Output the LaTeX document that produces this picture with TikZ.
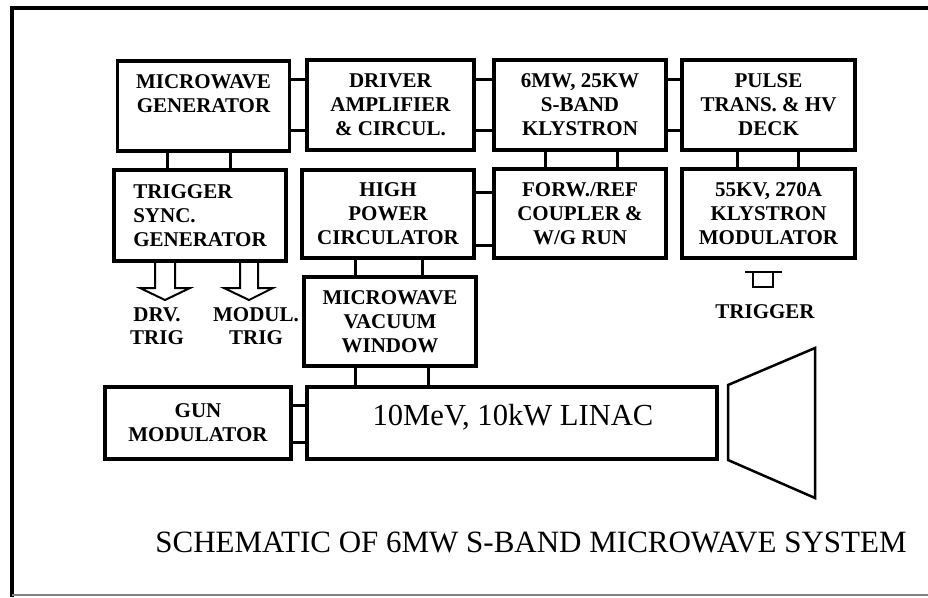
\documentclass[tikz,border=0pt]{standalone}
\usepackage{fontspec}
\setmainfont{Liberation Serif}
\begin{document}
\begin{tikzpicture}[x=1pt,y=-1pt,
  box/.style={draw, line width=3.5pt, minimum width=172pt, minimum height=90pt, align=center, inner sep=0pt, font=\bfseries\fontsize{21}{24}\selectfont},
  link/.style={line width=3pt},
  lbl/.style={align=center, inner sep=0pt, font=\bfseries\fontsize{21}{23}\selectfont},
  thinline/.style={line width=2pt, line join=miter},
  bigtext/.style={inner sep=0pt, font=\fontsize{30.6}{36}\selectfont}]
\useasboundingbox (0,0) rectangle (928,597);
% frame
\coordinate (f1) at (12,597);
\coordinate (f2) at (12,8);
\coordinate (f3) at (935,8);
\coordinate (f4) at (12,595);
\coordinate (f5) at (935,595);
\draw[line width=3.5pt] (f1) -- (f2) -- (f3);
\draw[gray, line width=1.5pt] (f4) -- (f5);
% boxes
\node[box] (mg) at (203.5,106) {MICROWAVE\\GENERATOR\\~};
\node[box, minimum width=167pt] (drv) at (390.5,105) {DRIVER\\AMPLIFIER\\\& CIRCUL.};
\node[box] (kly) at (580,105) {6MW, 25KW\\S-BAND\\KLYSTRON};
\node[box, minimum width=173pt] (pul) at (768.5,105) {PULSE\\TRANS. \& HV\\DECK};
\node[box, align=left, minimum height=91pt] (tsg) at (200,215.5) {TRIGGER\\SYNC.\\GENERATOR};
\node[box, minimum height=88pt] (hpc) at (388,214) {HIGH\\POWER\\CIRCULATOR};
\node[box, minimum height=89pt] (fwd) at (580,213.5) {FORW./REF\\COUPLER \&\\W/G RUN};
\node[box, minimum width=173pt, minimum height=89pt] (kmod) at (768.5,213.5) {55KV, 270A\\KLYSTRON\\MODULATOR};
\node[box, minimum height=89pt] (mvw) at (390,321.5) {MICROWAVE\\VACUUM\\WINDOW};
\node[box, minimum width=410pt, minimum height=72pt] (linac) at (512,423) {};
\node[bigtext, anchor=base] (linactxt) at (513,425) {10MeV, 10kW LINAC};
\node[box, minimum width=186pt, minimum height=72pt] (gun) at (198,423) {GUN\\MODULATOR};
% links
\draw[link] (mg.east |- 0,79) -- (drv.west |- 0,79);
\draw[link] (mg.east |- 0,130) -- (drv.west |- 0,130);
\draw[link] (drv.east |- 0,79) -- (kly.west |- 0,79);
\draw[link] (drv.east |- 0,130) -- (kly.west |- 0,130);
\draw[link] (kly.east |- 0,79) -- (pul.west |- 0,79);
\draw[link] (kly.east |- 0,130) -- (pul.west |- 0,130);
\draw[link] (mg.south -| 167,0) -- (tsg.north -| 167,0);
\draw[link] (mg.south -| 230,0) -- (tsg.north -| 230,0);
\draw[link] (kly.south -| 545,0) -- (fwd.north -| 545,0);
\draw[link] (kly.south -| 617,0) -- (fwd.north -| 617,0);
\draw[link] (pul.south -| 737,0) -- (kmod.north -| 737,0);
\draw[link] (pul.south -| 798,0) -- (kmod.north -| 798,0);
\draw[link] (hpc.east |- 0,192) -- (fwd.west |- 0,192);
\draw[link] (hpc.east |- 0,245) -- (fwd.west |- 0,245);
\draw[link] (hpc.south -| 355,0) -- (mvw.north -| 355,0);
\draw[link] (hpc.south -| 422,0) -- (mvw.north -| 422,0);
\draw[link] (mvw.south -| 355,0) -- (linac.north -| 355,0);
\draw[link] (mvw.south -| 428,0) -- (linac.north -| 428,0);
\draw[link] (gun.east |- 0,405) -- (linac.west |- 0,405);
\draw[link] (gun.east |- 0,442) -- (linac.west |- 0,442);
% hollow arrows
\draw[thinline] (tsg.south -| 155,0) -- (155,288) -- (140,288) -- (165,300) -- (190,288) -- (175,288) -- (tsg.south -| 175,0);
\draw[thinline] (tsg.south -| 240,0) -- (240,288) -- (224,288) -- (249,300) -- (273,288) -- (258,288) -- (tsg.south -| 258,0);
\node[lbl] (drvtrig) at (157,326.5) {DRV.\\TRIG};
\node[lbl] (modtrig) at (256,326.5) {MODUL.\\TRIG};
% trigger symbol
\coordinate (p1) at (745,272);
\coordinate (p2) at (782,272);
\coordinate (p3) at (753,272);
\coordinate (p4) at (753,287);
\coordinate (p5) at (773,287);
\coordinate (p6) at (773,272);
\draw[thinline] (p1) -- (p2);
\draw[thinline] (p3) -- (p4) -- (p5) -- (p6);
\node[lbl] (trig) at (765,312) {TRIGGER};
% horn
\coordinate (h1) at (728,385);
\coordinate (h2) at (815,348);
\coordinate (h3) at (815,498);
\coordinate (h4) at (728,460);
\draw[line width=2.5pt, line join=miter] (h1) -- (h2) -- (h3) -- (h4) -- cycle;
% caption
\node[inner sep=0pt, font=\fontsize{31}{36}\selectfont] (cap) at (531,542) {SCHEMATIC OF 6MW S-BAND MICROWAVE SYSTEM};
\end{tikzpicture}
\end{document}
